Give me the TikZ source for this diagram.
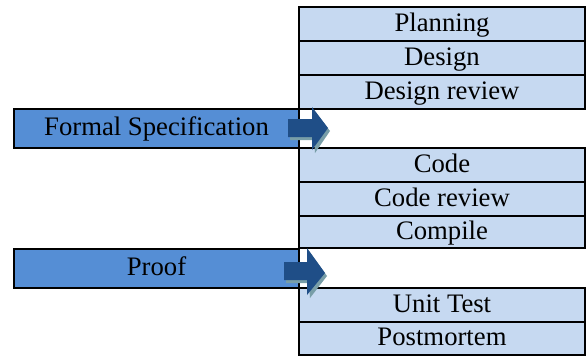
\documentclass[tikz,border=0pt]{standalone}
\usepackage{fontspec}
\setmainfont{Liberation Serif}
\definecolor{rowblue}{RGB}{198,217,241}
\definecolor{boxblue}{RGB}{85,142,213}
\definecolor{arrowblue}{RGB}{31,78,135}
\definecolor{arrowshade}{RGB}{120,158,168}
\tikzset{
  cell/.style={draw=black, line width=1.2pt, fill=rowblue, inner sep=0pt, outer sep=0pt,
    minimum width=286pt, anchor=north west, text height=19pt, text depth=5pt,
    font=\fontsize{26.7}{30}\selectfont},
  blankcell/.style={draw=none, fill=white, inner sep=0pt, outer sep=0pt,
    minimum width=286pt, anchor=north west},
  sidebox/.style={draw=black, line width=1.2pt, fill=boxblue, inner sep=0pt, outer sep=0pt,
    minimum width=285pt, anchor=north west, text height=19pt, text depth=5pt,
    font=\fontsize{26.7}{30}\selectfont},
  blockarrow/.style={fill=arrowblue, draw=none},
  arrowshadow/.style={fill=arrowshade, draw=none}
}
\begin{document}
\begin{tikzpicture}[x=1pt,y=-1pt]
\useasboundingbox (0,0) rectangle (586,356);
% table column
\node[cell, minimum height=34pt] (planning) at (299,7) {Planning};
\node[cell, minimum height=34pt] (design) at (299,41) {Design};
\node[cell, minimum height=34pt] (designreview) at (299,75) {Design review};
\node[cell, minimum height=34pt] (code) at (299,148) {Code};
\node[cell, minimum height=34pt] (codereview) at (299,182) {Code review};
\node[cell, minimum height=32pt] (compile) at (299,216) {Compile};
\node[cell, minimum height=34pt] (unittest) at (299,288) {Unit Test};
\node[cell, minimum height=33pt] (postmortem) at (299,322) {Postmortem};
% left boxes
\node[sidebox, minimum height=39pt] (formal) at (14,109) {Formal Specification};
\node[sidebox, minimum height=39pt] (proof) at (14,249) {Proof};
% block arrows (with bevel shadow)
\fill[arrowshadow] (290,122) -- (314,122) -- (314,110) -- (330,131) -- (315,153) -- (314,140) -- (290,140) -- cycle;
\fill[blockarrow] (288,119) -- (312,119) -- (312,107) -- (328,128) -- (312,150) -- (312,137) -- (288,137) -- cycle;
\fill[arrowshadow] (286,265) -- (309,265) -- (309,251) -- (327,276) -- (310,298) -- (309,283) -- (286,283) -- cycle;
\fill[blockarrow] (284,262) -- (307,262) -- (307,248) -- (325,273) -- (307,295) -- (307,280) -- (284,280) -- cycle;
\end{tikzpicture}
\end{document}
